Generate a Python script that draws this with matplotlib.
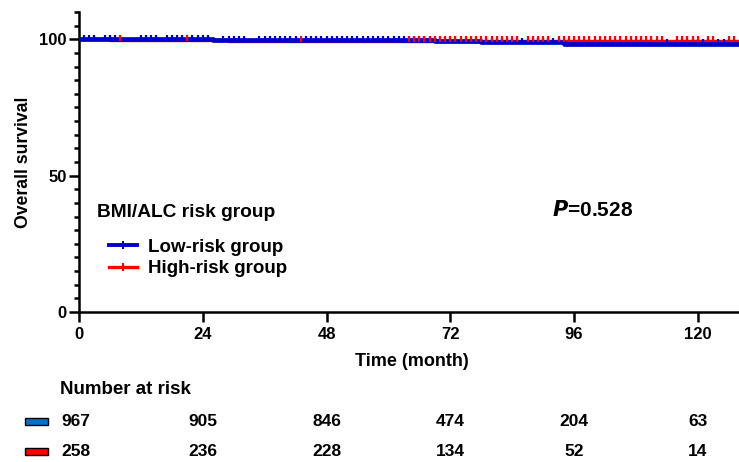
import matplotlib.pyplot as plt
from matplotlib.lines import Line2D
from matplotlib.patches import Rectangle
from matplotlib.ticker import MultipleLocator

# step curves (month, overall survival %)
low_t = [0, 26, 69, 78, 94, 128]
low_s = [100, 99.6, 99.2, 98.9, 98.3, 98.3]
high_t = [0, 6, 29, 128]
high_s = [100, 99.6, 99.3, 99.3]

# censored observations (months)
low_cens = [1, 2, 3, 5, 6, 7, 12, 13, 14, 15, 17, 18, 19, 20, 22, 23, 24, 25,
            28, 29, 30, 31, 32, 35, 36, 37, 38, 39, 40, 41, 42, 44, 45, 46, 47,
            48, 49, 50, 51, 52, 53, 54, 55, 56, 57, 58, 59, 60, 61, 62, 63, 64,
            65, 66, 67, 68, 70, 71, 72, 73, 75, 76, 77, 79, 80, 81, 82, 83, 84,
            85, 86, 87, 88, 89, 90, 91, 92, 93, 95, 96, 97, 98, 99, 100, 101,
            102, 103, 104, 105, 106, 107, 108, 109, 110, 111, 112, 113, 114,
            116, 117, 118, 119, 120, 121, 122, 123, 124, 125, 126, 127]
high_cens = [8, 21, 43, 64, 65, 66, 67, 68, 69, 70, 71, 72, 73, 74, 75, 76, 77,
             78, 79, 80, 81, 82, 83, 84, 85, 87, 88, 89, 90, 91, 93, 94, 95, 96,
             97, 98, 99, 100, 101, 102, 103, 104, 105, 106, 107, 108, 109, 110,
             111, 112, 113, 116, 117, 118, 119, 120, 122, 123, 126, 127]

risk_times = [0, 24, 48, 72, 96, 120]
risk_low = [967, 905, 846, 474, 204, 63]
risk_high = [258, 236, 228, 134, 52, 14]

blue = '#0000cc'
red = '#ff0000'
arial = ['Liberation Sans', 'DejaVu Sans']


def surv_at(t, ts, ss):
    val = ss[0]
    for a, b in zip(ts, ss):
        if a <= t:
            val = b
    return val


fig = plt.figure(figsize=(7.39, 4.62), dpi=100)
ax = fig.add_axes([79/739, 150/462, 660/739, 300/462])

ax.step(low_t, low_s, where='post', color=blue, lw=3.4, zorder=3)
ax.step(high_t, high_s, where='post', color=red, lw=2.4, zorder=2)
ax.plot(high_cens, [surv_at(t, high_t, high_s) + 0.9 for t in high_cens], ls='none',
        marker='|', ms=5, mew=1.6, color=red, zorder=4)
ax.plot(low_cens, [surv_at(t, low_t, low_s) + 0.6 for t in low_cens], ls='none',
        marker='|', ms=4, mew=1.6, color=blue, zorder=3)

ax.set_xlim(0, 128)
ax.set_ylim(0, 110)
ax.set_xticks(risk_times)
ax.set_yticks([0, 50, 100])
ax.yaxis.set_minor_locator(MultipleLocator(5))
for s in ['top', 'right']:
    ax.spines[s].set_visible(False)
for s in ['left', 'bottom']:
    ax.spines[s].set_linewidth(1.8)
ax.tick_params(which='major', length=7, width=1.8, pad=2)
ax.tick_params(which='minor', length=3.5, width=1.8)
ax.tick_params(axis='x', pad=4)
for lab in ax.get_xticklabels() + ax.get_yticklabels():
    lab.set_family(arial)
    lab.set_fontweight('bold')
    lab.set_fontsize(12)

ax.set_ylabel('Overall survival', family=arial, fontweight='bold', fontsize=12.7, labelpad=5)

ax.text(91.7, 37.5, r'$\bfit{P}$=0.528', family=arial, fontweight='bold', fontsize=15,
        va='center', ha='left')
ax.text(3.5, 36.4, 'BMI/ALC risk group', family=arial, fontweight='bold', fontsize=13.8,
        va='center', ha='left')
handles = [Line2D([], [], color=blue, lw=2.8, marker='|', ms=6, mew=1.5),
           Line2D([], [], color=red, lw=2.4, marker='|', ms=6, mew=1.5)]
ax.legend(handles, ['Low-risk group', 'High-risk group'], loc='upper left',
          bbox_to_anchor=(0.02, 0.30), frameon=False, handlelength=1.5,
          handletextpad=0.55, labelspacing=0.22, markerfirst=True,
          prop={'family': arial, 'weight': 'bold', 'size': 13.5})

fig.text(412/739, 1 - 362/462, 'Time (month)', family=arial, fontweight='bold',
         fontsize=13, ha='center', va='center')
fig.text(60/739, 1 - 389/462, 'Number at risk', family=arial, fontweight='bold',
         fontsize=13.5, ha='left', va='center')

for vals, y, col in [(risk_low, 421, '#0b6fc9'), (risk_high, 451, red)]:
    yf = 1 - y/462
    for t, n in zip(risk_times, vals):
        fig.text(ax.transData.transform((t, 0))[0]/739 - (3/739 if t == 0 else 0), yf,
                 str(n), family=arial, fontweight='bold', fontsize=12.5,
                 ha='center', va='center')
    fig.patches.append(Rectangle((25/739, yf - 3.5/462), 23/739, 7/462,
                                 transform=fig.transFigure, facecolor=col,
                                 edgecolor='black', lw=1))

fig.savefig('out.png', dpi=100)
